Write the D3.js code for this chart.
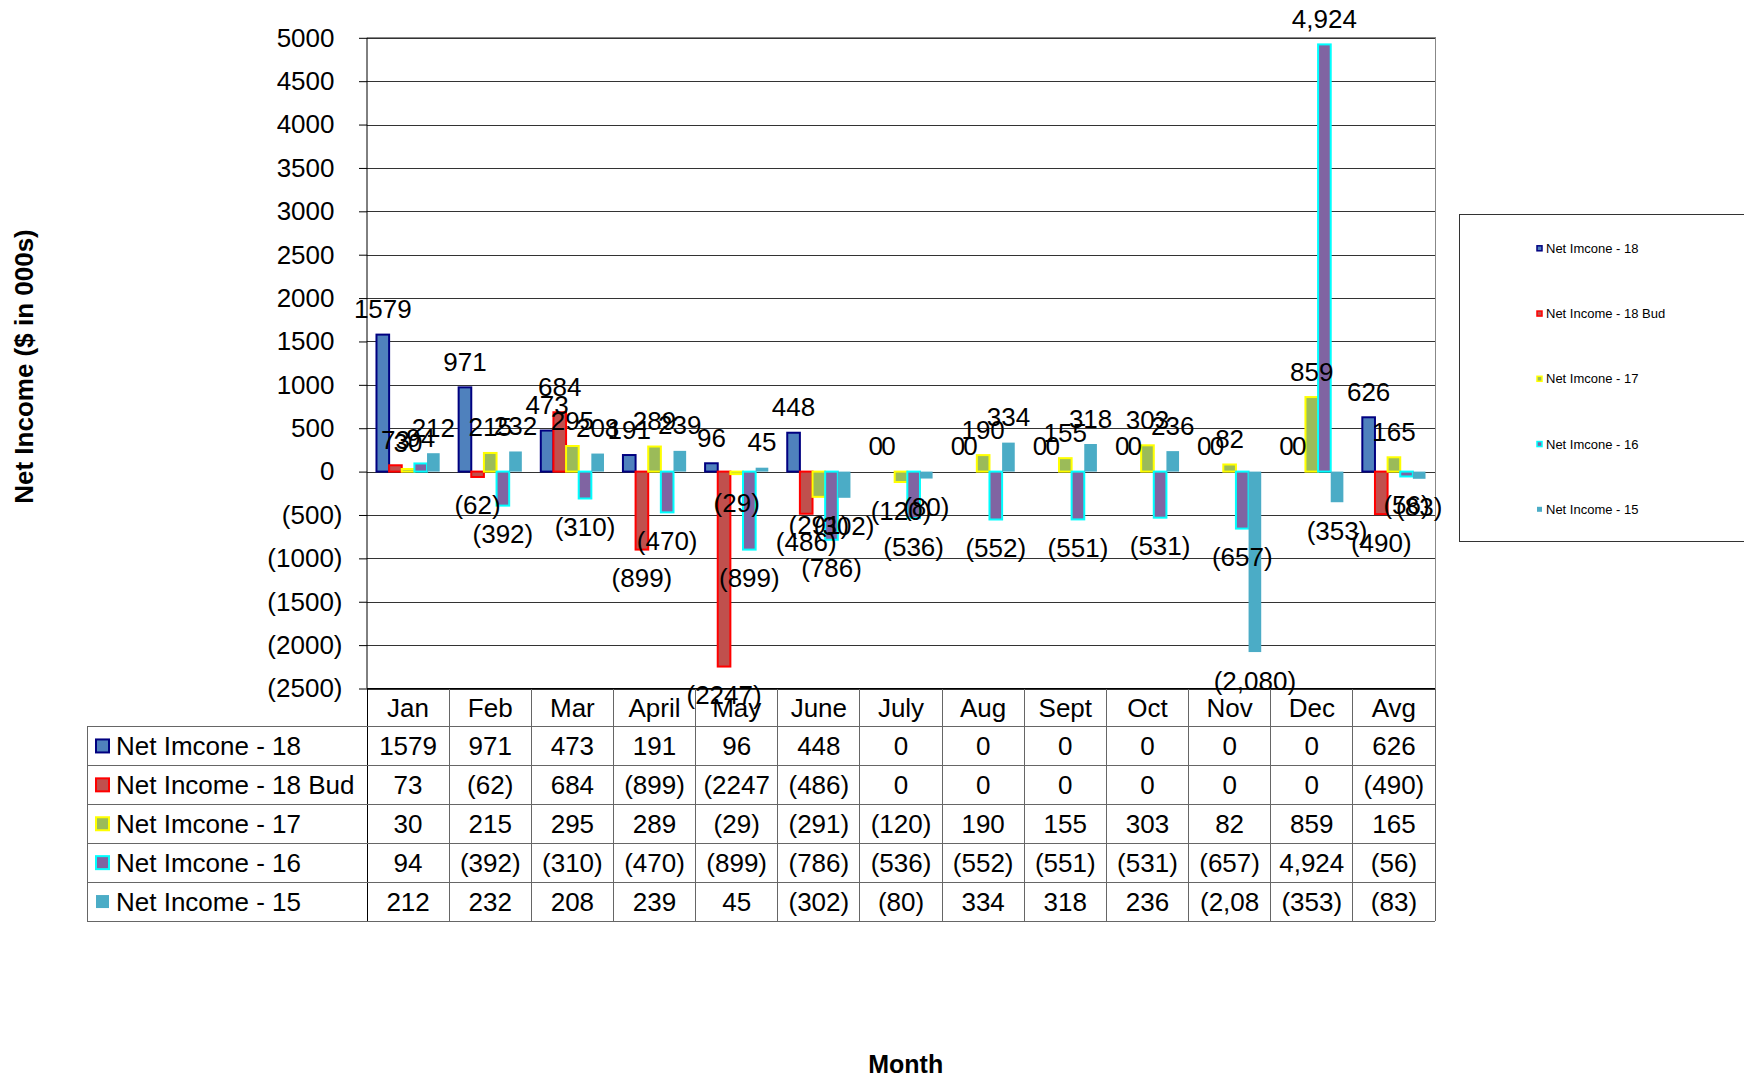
<!DOCTYPE html>
<html>
<head>
<meta charset="utf-8">
<script src="https://cdn.jsdelivr.net/npm/d3@7"></script>
<style>
    body { margin: 0; background: #fff; }
    svg text { font-family: "Liberation Sans", Arial, sans-serif; fill: #000; }
</style>
</head>
<body>
<div id="chart"></div>
<script>
const categories = ["Jan", "Feb", "Mar", "April", "May", "June", "July", "Aug", "Sept", "Oct", "Nov", "Dec", "Avg"];
const seriesNames = ["Net Imcone - 18", "Net Income - 18 Bud", "Net Imcone - 17", "Net Imcone - 16", "Net Income - 15"];

const net18    = [1579, 971, 473, 191, 96, 448, 0, 0, 0, 0, 0, 0, 626];
const net18Bud = [73, -62, 684, -899, -2247, -486, 0, 0, 0, 0, 0, 0, -490];
const net17    = [30, 215, 295, 289, -29, -291, -120, 190, 155, 303, 82, 859, 165];
const net16    = [94, -392, -310, -470, -899, -786, -536, -552, -551, -531, -657, 4924, -56];
const net15    = [212, 232, 208, 239, 45, -302, -80, 334, 318, 236, -2080, -353, -83];

// 16 and 15 use a thousands separator, the others don't
const useComma = [false, false, false, true, true];

const yTicks = [-2500, -2000, -1500, -1000, -500, 0, 500, 1000, 1500, 2000, 2500, 3000, 3500, 4000, 4500, 5000];

const seriesValues = [net18, net18Bud, net17, net16, net15];
const fills = ["#4f81bd", "#c0504d", "#9bbb59", "#8064a2", "#4bacc6"];
const strokes = ["#000080", "#ff0000", "#ffff00", "#00ffff", "none"];

const W = 1744, H = 1080;
const plot = { left: 367, right: 1435, top: 37.8, bottom: 688.5 };

const fmt = function (v, comma) {
    const s = comma ? d3.format(",")(Math.abs(v)) : String(Math.abs(v));
    return v < 0 ? "(" + s + ")" : s;
};

const svg = d3.select("#chart").append("svg")
    .attr("width", W)
    .attr("height", H);

// scales
const x0 = d3.scaleBand().domain(categories).range([plot.left, plot.right]);
const bw = x0.bandwidth();
const gap = bw * 1.5 / 6.5;
const x1 = d3.scaleBand().domain(d3.range(seriesNames.length)).range([gap / 2, bw - gap / 2]);
const y = d3.scaleLinear().domain([-2500, 5000]).range([plot.bottom, plot.top]);

// grid
svg.append("g")
    .attr("transform", "translate(" + plot.left + ",0)")
    .call(d3.axisLeft(y).tickValues(yTicks).tickFormat("").tickSize(-(plot.right - plot.left)))
    .call(g => g.select(".domain").remove())
    .call(g => g.selectAll("line").attr("stroke", "#333").attr("shape-rendering", "crispEdges"));

// plot frame top + right
svg.append("path")
    .attr("d", "M" + plot.left + "," + plot.top + "H" + plot.right + "V" + plot.bottom)
    .attr("fill", "none")
    .attr("stroke", "#888")
    .attr("shape-rendering", "crispEdges");

// bars
const groups = svg.append("g").selectAll("g")
    .data(seriesValues)
    .join("g")
    .attr("fill", (d, i) => fills[i])
    .attr("stroke", (d, i) => strokes[i])
    .attr("stroke-width", 2);

groups.selectAll("rect")
    .data((vals, i) => vals.map((v, j) => ({ v: v, s: i, c: categories[j] })).filter(d => d.v !== 0))
    .join("rect")
    .attr("x", d => x0(d.c) + x1(d.s))
    .attr("width", x1.bandwidth())
    .attr("y", d => y(Math.max(0, d.v)))
    .attr("height", d => Math.abs(y(d.v) - y(0)));

// y axis
const yAxis = svg.append("g")
    .attr("transform", "translate(" + plot.left + ",0)")
    .call(d3.axisLeft(y).tickValues(yTicks).tickSize(8).tickPadding(16)
        .tickFormat(d => d < 0 ? "(" + Math.abs(d) + ")" : String(d)));
yAxis.select(".domain").attr("stroke", "#000").attr("d", "M0," + plot.top + "V" + plot.bottom);
yAxis.selectAll("line").attr("stroke", "#000");
yAxis.selectAll("text")
    .style("font-size", "26px")
    .attr("font-family", null)
    .attr("x", d => d < 0 ? -24.5 : -32.5);

// bottom axis line
svg.append("line")
    .attr("x1", plot.left).attr("x2", plot.right)
    .attr("y1", plot.bottom).attr("y2", plot.bottom)
    .attr("stroke", "#000");

// data labels
const labelLayer = svg.append("g").style("font-size", "26px");
seriesValues.forEach(function (vals, i) {
    labelLayer.selectAll(null)
        .data(vals.map((v, j) => ({ v: v, c: categories[j] })))
        .join("text")
        .attr("text-anchor", "middle")
        .attr("x", d => x0(d.c) + x1(i) + x1.bandwidth() / 2)
        .attr("y", d => d.v < 0 ? y(d.v) + 37.5 : y(d.v) - 16.5)
        .text(d => fmt(d.v, useComma[i]));
});

// data table
const table = { left: 87, headTop: plot.bottom, headH: 38, rowH: 38.9 };
const rowsTop = table.headTop + table.headH;
const tableBottom = rowsTop + table.rowH * seriesNames.length;
const tbl = svg.append("g");
const lineColor = "#666";

// verticals for the category columns
categories.concat(["_end"]).forEach(function (c, j) {
    const xx = j < categories.length ? x0(c) : plot.right;
    tbl.append("line")
        .attr("x1", xx).attr("x2", xx)
        .attr("y1", table.headTop).attr("y2", tableBottom)
        .attr("stroke", j === 0 ? "#000" : lineColor)
        .attr("shape-rendering", "crispEdges");
});
tbl.append("line")
    .attr("x1", table.left).attr("x2", table.left)
    .attr("y1", rowsTop).attr("y2", tableBottom)
    .attr("stroke", lineColor).attr("shape-rendering", "crispEdges");
d3.range(seriesNames.length + 1).forEach(function (r) {
    const yy = rowsTop + r * table.rowH;
    tbl.append("line")
        .attr("x1", table.left).attr("x2", plot.right)
        .attr("y1", yy).attr("y2", yy)
        .attr("stroke", lineColor).attr("shape-rendering", "crispEdges");
});

// header (category labels)
tbl.selectAll(".cat")
    .data(categories)
    .join("text")
    .attr("class", "cat")
    .attr("text-anchor", "middle")
    .style("font-size", "26px")
    .attr("x", d => x0(d) + bw / 2)
    .attr("y", table.headTop + table.headH / 2 + 9.3)
    .text(d => d);

// rows
seriesNames.forEach(function (name, i) {
    const cy = rowsTop + table.rowH * (i + 0.5);
    tbl.append("rect")
        .attr("x", 96).attr("y", cy - 6.5)
        .attr("width", 13).attr("height", 13)
        .attr("fill", fills[i])
        .attr("stroke", strokes[i])
        .attr("stroke-width", 2);
    tbl.append("text")
        .attr("x", 116).attr("y", cy + 9.3)
        .style("font-size", "26px")
        .text(name);
    tbl.selectAll(null)
        .data(seriesValues[i].map((v, j) => ({ v: v, c: categories[j] })))
        .join("text")
        .attr("text-anchor", "middle")
        .style("font-size", "26px")
        .attr("x", d => x0(d.c) + bw / 2)
        .attr("y", cy + 9.3)
        .text(d => fmt(d.v, useComma[i]).slice(0, 5)); // cells clip long values
});

// legend (runs off the right edge)
const legend = svg.append("g");
legend.append("rect")
    .attr("x", 1459.5).attr("y", 214.5)
    .attr("width", 400).attr("height", 327)
    .attr("fill", "#fff")
    .attr("stroke", "#333");
seriesNames.forEach(function (name, i) {
    const ly = 248.3 + i * 65.25;
    legend.append("rect")
        .attr("x", 1537).attr("y", ly - 2.5)
        .attr("width", 5).attr("height", 5)
        .attr("fill", fills[i])
        .attr("stroke", strokes[i])
        .attr("stroke-width", 1.5);
    legend.append("text")
        .attr("x", 1546).attr("y", ly + 4.6)
        .style("font-size", "13px")
        .text(name);
});

// axis titles
svg.append("text")
    .attr("transform", "translate(33,366.5) rotate(-90)")
    .attr("text-anchor", "middle")
    .style("font-size", "26px")
    .style("font-weight", "bold")
    .text("Net Income ($ in 000s)");

svg.append("text")
    .attr("x", 905.7).attr("y", 1072.7)
    .attr("text-anchor", "middle")
    .style("font-size", "25px")
    .style("font-weight", "bold")
    .text("Month");
</script>
</body>
</html>
